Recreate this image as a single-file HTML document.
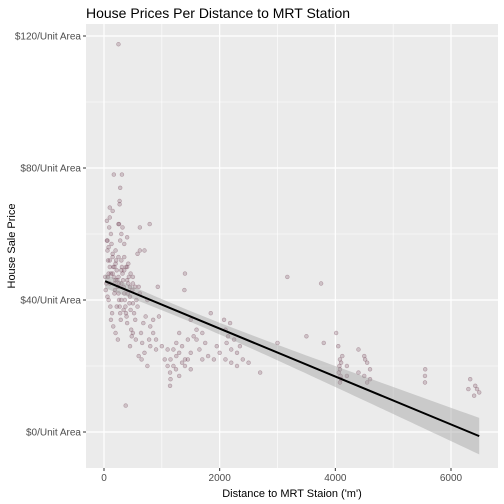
<!DOCTYPE html>
<html><head><meta charset="utf-8"><style>
body{margin:0;background:#fff;}
svg{display:block;font-family:"Liberation Sans",Arial,sans-serif;}
</style></head><body>
<svg id="chart" width="504" height="504" viewBox="0 0 504 504"></svg>
<script>
const distances=[50,60,70,80,90,100,120,130,150,160,170,180,190,200,210,220,230,240,250,260,270,280,290,300,310,320,330,340,350,360,370,380,390,400,410,420,430,440,450,460,470,480,490,500,520,540,560,580,600,620,640,660,680,700,720,750,780,800,850,900,
20,40,30,60,80,110,140,180,220,260,300,340,380,420,460,500,540,580,620,200,240,160,120,100,70,300,320,250,280,350,400,150,270,270,170,310,280,100,50,260,790,620,700,930,1400,1390,375,250,500,450,550,600,650,750,800,850,900,950,1000,
1050,1100,1142,1142,1245,1150,1200,1250,1300,1350,1400,1450,1500,1550,1600,1650,1700,1750,1800,1846,1900,1950,2000,2076,2100,2145,2120,2180,2200,2250,2300,2350,2400,2500,2700,1500,1600,1700,1300,1350,
3000,3170,3500,3754,3800,4014,4050,4080,4070,4060,4100,4080,4120,4200,4400,4500,4515,4550,4600,5554,5550,6332,6419,6488,6300,
4080,4090,4100,4200,4400,4500,4550,4600,5550,6400,6450,
1100,1150,1200,1250,1300,1400,1450,1500,2100,2200,2300,
100,150,200,250,300,350,400,450,200,250,300,150,100,80,60,350,400,500,120,180];
const prices=[58,55,52,48,62,65,60,57,53,50,47,45,43,55,52,49,46,44,42,40,38,36,34,52,50,48,46,44,42,40,38,36,35,33,42,45,47,39,41,37,31,29,43,39,36,34,40,38,44,42,30,27,33,24,35,40,28,26,34,25,
47,45,43,41,40,38,36,42,38,45,40,37,50,51,48,47,44,54,55,30,28,32,34,45,47,60,62,63,58,57,59,67,69,70,78,78,74,68,64,63,63,62,55,44,48,43,8,117.5,30,26,28,23,22,20,32,30,28,35,26,
22,20,18,14,19,16,25,27,30,26,22,28,24,29,31,25,30,27,23,36,22,26,24,34,31,29,27,33,25,28,24,26,22,21,18,34,28,22,17,21,
27,47,29,45,27,30,26,22,20,18,16,15,23,17,25,23,22,21,19,19,17,16,14,12,13,
19,17,21,20,18,17,15,16,15,11,13,
25,22,20,23,24,20,22,19,22,21,20,
50,48,46,47,45,49,46,44,51,53,49,54,52,56,58,53,50,45,48,50];
// fitted linear model coefficients (as shown by geom_smooth in the reference)
const fitCoefficients=[45.85,-0.00726];
const yTicks=[0,40,80,120];
const yTickLabels=["$0/Unit Area","$40/Unit Area","$80/Unit Area","$120/Unit Area"];
const xTicks=[0,2000,4000,6000];
const xTickLabels=["0","2000","4000","6000"];

const NS="http://www.w3.org/2000/svg";
const svg=document.getElementById('chart');
const P={l:86,r:498,t:24,b:468};
const xs=v=>104+(v-0)*(451-104)/6000;
const ys=v=>432-v*(432-36)/120;
function el(tag,attrs,parent){const e=document.createElementNS(NS,tag);for(const k in attrs)e.setAttribute(k,attrs[k]);(parent||svg).appendChild(e);return e;}

const bg=el('rect',{x:P.l,y:P.t,width:P.r-P.l,height:P.b-P.t,fill:'#ebebeb'});


const xMinor=[1000,3000,5000],yMinor=[20,60,100];
xMinor.forEach(v=>{const g=el('line',{x1:xs(v),x2:xs(v),y1:P.t,y2:P.b,stroke:'#fff','stroke-width':0.6});

});
yMinor.forEach(v=>{const g=el('line',{x1:P.l,x2:P.r,y1:ys(v),y2:ys(v),stroke:'#fff','stroke-width':0.6});

});
xTicks.forEach((v,i)=>{const g=el('line',{x1:xs(v),x2:xs(v),y1:P.t,y2:P.b,stroke:'#fff','stroke-width':1.2});


const t=el('line',{x1:xs(v),x2:xs(v),y1:P.b,y2:P.b+3,stroke:'#333','stroke-width':1});


const l=el('text',{x:xs(v),y:P.b+13,'text-anchor':'middle','font-size':10,fill:'#4d4d4d'});l.textContent=xTickLabels[i];

});
yTicks.forEach((v,i)=>{const g=el('line',{x1:P.l,x2:P.r,y1:ys(v),y2:ys(v),stroke:'#fff','stroke-width':1.2});


const t=el('line',{x1:P.l-3,x2:P.l,y1:ys(v),y2:ys(v),stroke:'#333','stroke-width':1});


const l=el('text',{x:P.l-5,y:ys(v)+3.5,'text-anchor':'end','font-size':10,fill:'#4d4d4d'});l.textContent=yTickLabels[i];

});

distances.forEach((d,i)=>{const c=el('circle',{cx:xs(d),cy:ys(prices[i]),r:1.9,fill:'rgba(120,70,90,0.25)',stroke:'rgba(110,60,80,0.4)','stroke-width':0.6});

});

const icpt=fitCoefficients[0], slope=fitCoefficients[1];
const n=distances.length;
const mx=distances.reduce((a,b)=>a+b,0)/n;
let sxx=0;distances.forEach(d=>{sxx+=(d-mx)**2;});
let sse=0;distances.forEach((d,i)=>{sse+=(prices[i]-icpt-slope*d)**2;});
const s=Math.sqrt(sse/(n-2));
const xmin=Math.min(...distances),xmax=Math.max(...distances);
const up=[],lo=[];
for(let k=0;k<=60;k++){const x=xmin+(xmax-xmin)*k/60;const f=icpt+slope*x;const h=1.97*s*Math.sqrt(1/n+(x-mx)**2/sxx);
up.push(xs(x)+','+ys(f+h));lo.unshift(xs(x)+','+ys(f-h));}
const rib=el('polygon',{points:up.concat(lo).join(' '),fill:'rgba(153,153,153,0.4)'});


const ln=el('line',{x1:xs(xmin),y1:ys(icpt+slope*xmin),x2:xs(xmax),y2:ys(icpt+slope*xmax),stroke:'#000','stroke-width':2});



const title=el('text',{x:P.l,y:18,'font-size':14,fill:'#000'});title.textContent='House Prices Per Distance to MRT Station';


const xt=el('text',{x:(P.l+P.r)/2,y:497,'text-anchor':'middle','font-size':11,fill:'#000'});xt.textContent="Distance to MRT Staion ('m')";


const yt=el('text',{x:0,y:0,'text-anchor':'middle','font-size':11,fill:'#000',transform:'translate(15,'+((P.t+P.b)/2)+') rotate(-90)'});yt.textContent='House Sale Price';


</script>
</body></html>
